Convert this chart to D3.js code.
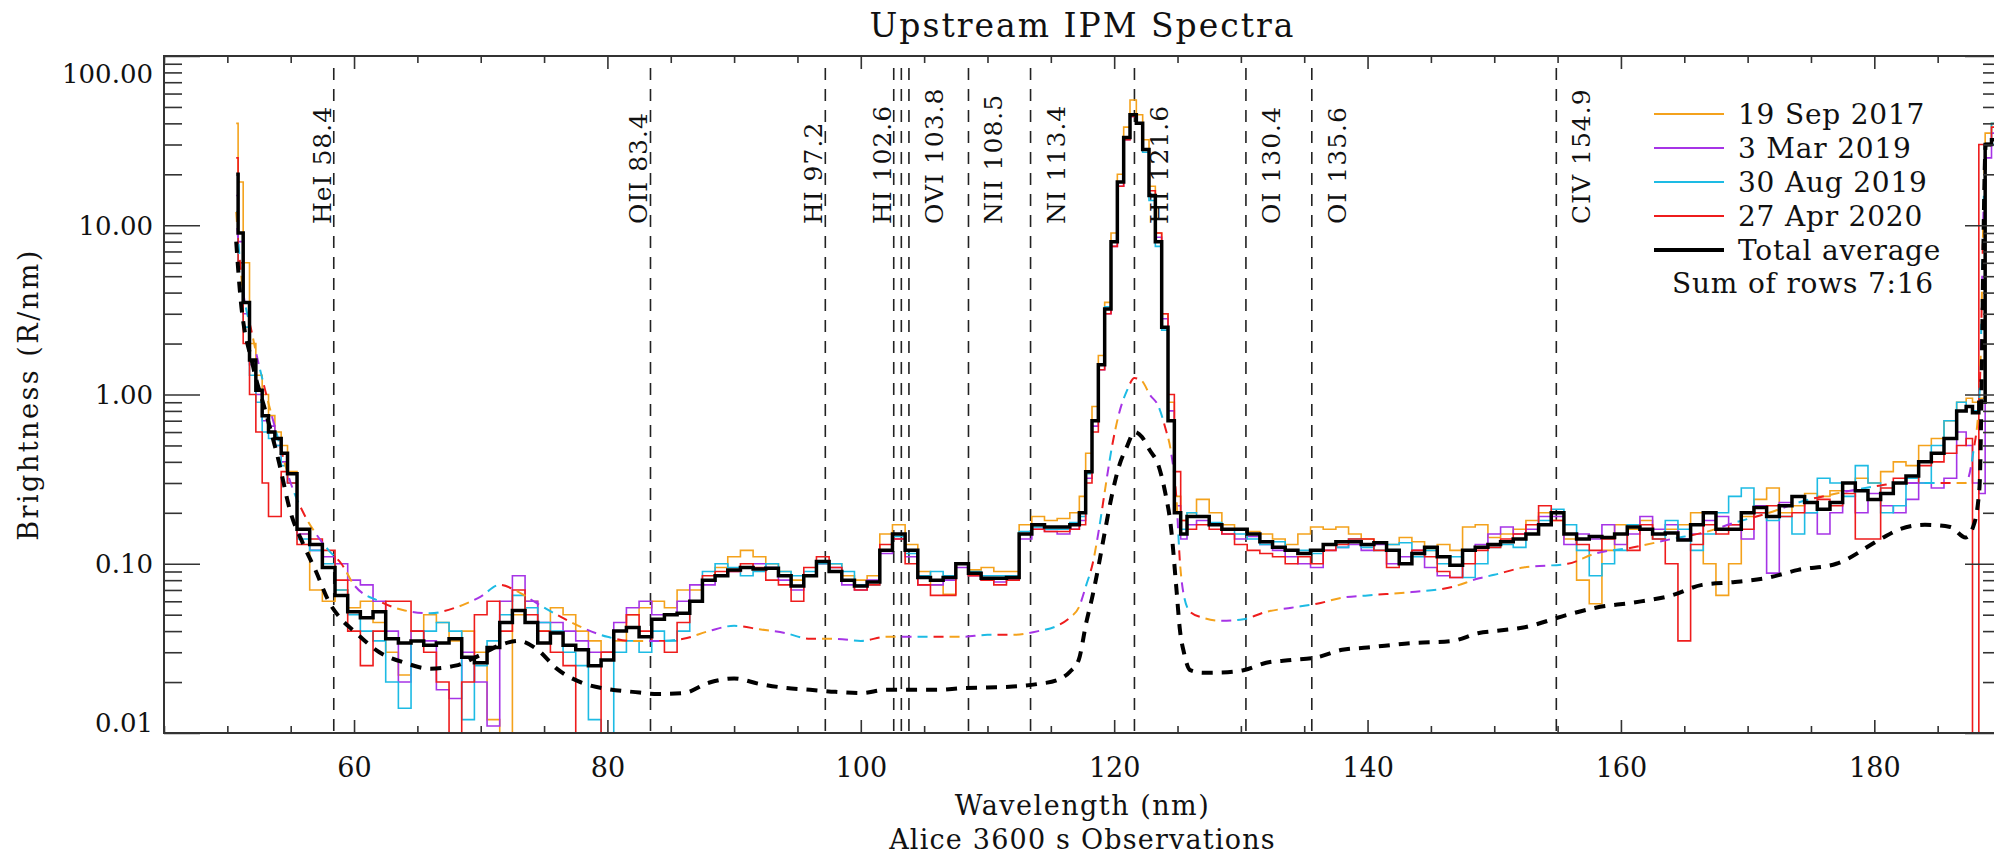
<!DOCTYPE html>
<html>
<head>
<meta charset="utf-8">
<script src="https://cdn.jsdelivr.net/npm/d3@7"></script>
<style>
  body { margin: 0; background: #ffffff; }
  text { font-family: 'DejaVu Serif', serif; fill: #111; }
</style>
</head>
<body>
<div id="chart"></div>
<script>
const wl = [
  50.7, 51, 51.5, 52, 52.5, 53, 53.5, 54, 54.5, 55,
  56, 57, 58, 59, 60, 61, 62, 63, 64, 65,
  66, 67, 68, 69, 70, 71, 72, 73, 74, 75,
  76, 77, 78, 79, 80, 81, 82, 83, 84, 85,
  86, 87, 88, 89, 90, 91, 92, 93, 94, 95,
  96, 97, 98, 99, 100, 101, 102, 103, 104, 105,
  106, 107, 108, 109, 110, 111, 112, 113, 114, 115,
  116, 117, 117.5, 118, 118.5, 119, 119.5, 120, 120.5, 121,
  121.5, 122, 122.5, 123, 123.5, 124, 124.5, 125, 125.5, 126,
  127, 128, 129, 130, 131, 132, 133, 134, 135, 136,
  137, 138, 139, 140, 141, 142, 143, 144, 145, 146,
  147, 148, 149, 150, 151, 152, 153, 154, 155, 156,
  157, 158, 159, 160, 161, 162, 163, 164, 165, 166,
  167, 168, 169, 170, 171, 172, 173, 174, 175, 176,
  177, 178, 179, 180, 181, 182, 183, 184, 185, 186,
  187, 187.5, 188, 188.5, 189, 189.5, 190
];

const sep2017 = [
  40, 18, 6, 2, 1.3, 1.0, 0.75, 0.6, 0.5, 0.35,
  0.15, 0.07, 0.06, 0.07, 0.055, 0.06, 0.045, 0.03, 0.022, 0.04,
  0.05, 0.045, 0.035, 0.04, 0.03, 0.012, 0.009, 0.05, 0.06, 0.04,
  0.055, 0.05, 0.04, 0.035, 0.03, 0.035, 0.05, 0.055, 0.06, 0.055,
  0.07, 0.07, 0.08, 0.095, 0.11, 0.12, 0.11, 0.1, 0.09, 0.08,
  0.085, 0.1, 0.1, 0.085, 0.08, 0.085, 0.15, 0.17, 0.13, 0.09,
  0.075, 0.066, 0.1, 0.092, 0.095, 0.09, 0.09, 0.17, 0.19, 0.18,
  0.185, 0.2, 0.25, 0.45, 0.85, 1.7, 3.5, 9, 20, 38,
  55, 45, 32, 17, 9, 3, 0.9, 0.25, 0.18, 0.2,
  0.24, 0.2, 0.17, 0.16, 0.155, 0.15, 0.14, 0.13, 0.15, 0.165,
  0.16, 0.165, 0.15, 0.14, 0.133, 0.13, 0.143, 0.135, 0.12, 0.13,
  0.12, 0.165, 0.17, 0.143, 0.15, 0.16, 0.18, 0.2, 0.18, 0.14,
  0.08, 0.058, 0.12, 0.17, 0.16, 0.18, 0.14, 0.16, 0.17, 0.2,
  0.1, 0.065, 0.1, 0.19, 0.24, 0.28, 0.2, 0.22, 0.26, 0.25,
  0.27, 0.3, 0.32, 0.3, 0.35, 0.4, 0.38, 0.5, 0.55, 0.7,
  0.9, 0.95, 0.9, 0.95, 35, 40, 40
];

const mar2019 = [
  15, 8, 3, 1.5, 1.0, 0.7, 0.65, 0.5, 0.4, 0.3,
  0.15, 0.12, 0.11, 0.1, 0.08, 0.075, 0.06, 0.04, 0.02, 0.04,
  0.035, 0.018, 0.016, 0.03, 0.02, 0.011, 0.06, 0.085, 0.06, 0.045,
  0.045, 0.04, 0.035, 0.03, 0.03, 0.045, 0.055, 0.06, 0.05, 0.05,
  0.06, 0.075, 0.075, 0.085, 0.09, 0.095, 0.1, 0.095, 0.08, 0.07,
  0.085, 0.1, 0.095, 0.075, 0.07, 0.08, 0.115, 0.14, 0.11, 0.075,
  0.075, 0.08, 0.095, 0.085, 0.08, 0.078, 0.08, 0.14, 0.16, 0.155,
  0.15, 0.16, 0.18, 0.32, 0.65, 1.4, 3, 7.5, 17, 32,
  44, 40, 28, 15, 8.5, 2.8, 0.8, 0.22, 0.14, 0.17,
  0.18, 0.17, 0.15, 0.14, 0.145, 0.13, 0.12, 0.11, 0.1, 0.095,
  0.12, 0.125, 0.13, 0.12, 0.13, 0.1, 0.11, 0.12, 0.095, 0.085,
  0.083, 0.12, 0.13, 0.15, 0.165, 0.15, 0.16, 0.19, 0.19, 0.13,
  0.15, 0.14, 0.17, 0.13, 0.15, 0.19, 0.16, 0.17, 0.14, 0.15,
  0.18, 0.19, 0.17, 0.14, 0.22, 0.088, 0.23, 0.25, 0.2, 0.15,
  0.2, 0.27, 0.2, 0.26, 0.22, 0.2, 0.24, 0.3, 0.28, 0.32,
  0.6, 0.5, 0.3, 0.26, 25, 35, 35
];

const aug2019 = [
  12, 6, 2.5, 1.3, 0.9, 0.6, 0.55, 0.5, 0.38, 0.3,
  0.14, 0.12, 0.1, 0.07, 0.05, 0.04, 0.035, 0.02, 0.014, 0.035,
  0.04, 0.045, 0.04, 0.012, 0.025, 0.035, 0.05, 0.065, 0.055, 0.045,
  0.04, 0.03, 0.025, 0.012, 0.008, 0.03, 0.035, 0.03, 0.04, 0.035,
  0.04, 0.06, 0.09, 0.1, 0.095, 0.085, 0.09, 0.1, 0.09, 0.085,
  0.09, 0.1, 0.1, 0.09, 0.075, 0.075, 0.12, 0.145, 0.115, 0.085,
  0.09, 0.085, 0.1, 0.09, 0.085, 0.085, 0.085, 0.155, 0.165, 0.16,
  0.16, 0.175, 0.19, 0.34, 0.7, 1.5, 3.3, 8, 18, 33,
  45, 40, 27, 14, 7.5, 2.4, 0.7, 0.2, 0.16, 0.2,
  0.19, 0.175, 0.16, 0.15, 0.14, 0.13, 0.135, 0.12, 0.12, 0.115,
  0.13, 0.125, 0.14, 0.125, 0.12, 0.13, 0.133, 0.11, 0.12, 0.1,
  0.11, 0.083, 0.1, 0.125, 0.13, 0.125, 0.15, 0.18, 0.21, 0.17,
  0.12, 0.085, 0.1, 0.12, 0.17, 0.16, 0.14, 0.18, 0.16, 0.12,
  0.15, 0.2, 0.25, 0.28, 0.2, 0.18, 0.19, 0.15, 0.2, 0.32,
  0.3, 0.25, 0.38, 0.3, 0.2, 0.22, 0.32, 0.3, 0.5, 0.7,
  0.9, 0.85, 0.8, 0.9, 30, 40, 40
];

const apr2020 = [
  25, 6, 2, 1.0, 0.6, 0.3, 0.19, 0.19, 0.35, 0.3,
  0.13, 0.14, 0.12, 0.08, 0.04, 0.025, 0.04, 0.06, 0.06, 0.04,
  0.03, 0.02, 0.008, 0.02, 0.05, 0.06, 0.04, 0.07, 0.05, 0.04,
  0.03, 0.025, 0.008, 0.008, 0.03, 0.04, 0.05, 0.04, 0.035, 0.03,
  0.045, 0.06, 0.085, 0.09, 0.09, 0.1, 0.095, 0.08, 0.075, 0.06,
  0.095, 0.11, 0.095, 0.08, 0.07, 0.075, 0.13, 0.14, 0.1, 0.075,
  0.065, 0.065, 0.1, 0.085, 0.08, 0.075, 0.08, 0.15, 0.16, 0.155,
  0.155, 0.16, 0.17, 0.3, 0.6, 1.4, 3, 7.5, 17, 32,
  44, 40, 28, 16, 9, 3, 1.0, 0.35, 0.18, 0.16,
  0.17, 0.16, 0.15, 0.13, 0.12, 0.115, 0.11, 0.1, 0.11, 0.1,
  0.12, 0.13, 0.14, 0.14, 0.12, 0.095, 0.1, 0.12, 0.11, 0.09,
  0.083, 0.1, 0.12, 0.125, 0.14, 0.15, 0.17, 0.22, 0.18, 0.15,
  0.13, 0.12, 0.14, 0.15, 0.12, 0.17, 0.14, 0.1, 0.035, 0.13,
  0.17, 0.15, 0.17, 0.16, 0.2, 0.22, 0.19, 0.2, 0.23, 0.24,
  0.22, 0.26, 0.14, 0.14, 0.28, 0.32, 0.3, 0.38, 0.4, 0.45,
  0.5, 0.55, 0.001, 30, 30, 38, 38
];

const totalAverage = [
  20, 9, 3.5, 1.6, 1.06, 0.75, 0.6, 0.55, 0.45, 0.34,
  0.16, 0.13, 0.095, 0.065, 0.052, 0.048, 0.052, 0.036, 0.034, 0.035,
  0.033, 0.034, 0.036, 0.028, 0.026, 0.032, 0.045, 0.053, 0.045, 0.034,
  0.039, 0.033, 0.031, 0.025, 0.027, 0.04, 0.042, 0.037, 0.047, 0.05,
  0.051, 0.06, 0.08, 0.085, 0.092, 0.095, 0.093, 0.094, 0.085, 0.074,
  0.085, 0.103, 0.09, 0.08, 0.074, 0.078, 0.12, 0.15, 0.12, 0.083,
  0.08, 0.083, 0.1, 0.088, 0.082, 0.082, 0.083, 0.15, 0.17, 0.165,
  0.165, 0.17, 0.2, 0.35, 0.7, 1.5, 3.2, 8, 18, 33,
  45, 40, 28, 15, 8, 2.5, 0.7, 0.2, 0.15, 0.19,
  0.19, 0.17, 0.16, 0.16, 0.15, 0.135, 0.125, 0.12, 0.115, 0.12,
  0.13, 0.135, 0.135, 0.13, 0.133, 0.12, 0.1, 0.115, 0.125, 0.11,
  0.098, 0.12, 0.125, 0.13, 0.135, 0.14, 0.15, 0.17, 0.2, 0.15,
  0.14, 0.145, 0.143, 0.15, 0.165, 0.16, 0.15, 0.152, 0.138, 0.17,
  0.2, 0.16, 0.16, 0.2, 0.215, 0.19, 0.22, 0.25, 0.23, 0.21,
  0.23, 0.3, 0.27, 0.24, 0.26, 0.3, 0.33, 0.4, 0.45, 0.55,
  0.8, 0.85, 0.78, 0.9, 30, 32, 32
];

const modelWl = [
  50.7, 51, 52, 53, 54, 55, 56, 57, 58, 59,
  60, 62, 64, 66, 68, 70, 71.5, 73, 74.5, 76,
  78, 80, 82, 84, 86, 88, 90, 92, 94, 96,
  98, 100, 102, 104, 106, 108, 110, 112, 114, 115.5,
  116.5, 117.2, 117.8, 118.3, 118.8, 119.3, 119.8, 120.4, 121, 121.6,
  122.2, 122.8, 123.5, 124, 124.5, 124.9, 125.2, 125.5, 126, 127,
  128.5, 130.2, 132, 134, 136, 138, 140, 143.5, 146.7, 148.8,
  150, 152.3, 155.8, 158, 161, 164, 166.4, 169, 171.7, 174,
  177, 180.5, 182, 184, 186, 187.2, 187.8, 188.3, 188.8, 190
];

const dateModel = [
  12, 6, 2.2, 1.05, 0.55, 0.3, 0.2, 0.15, 0.12, 0.1,
  0.075, 0.06, 0.053, 0.051, 0.055, 0.064, 0.075, 0.068, 0.058, 0.05,
  0.042, 0.037, 0.035, 0.035, 0.036, 0.04, 0.043, 0.041, 0.039, 0.036,
  0.036, 0.035, 0.037, 0.037, 0.037, 0.037, 0.038, 0.038, 0.04, 0.043,
  0.048, 0.055, 0.075, 0.1, 0.16, 0.28, 0.48, 0.78, 1.05, 1.25,
  1.2, 1.0, 0.85, 0.65, 0.45, 0.25, 0.1, 0.065, 0.052, 0.048,
  0.046, 0.047, 0.052, 0.055, 0.058, 0.063, 0.065, 0.068, 0.073, 0.082,
  0.086, 0.095, 0.1, 0.115, 0.125, 0.14, 0.152, 0.175, 0.2, 0.23,
  0.26, 0.29, 0.3, 0.3, 0.3, 0.3, 0.45, 1.0, 30, 30
];

const averageModel = [
  8, 4, 1.5, 0.8, 0.42, 0.2, 0.13, 0.09, 0.06, 0.047,
  0.04, 0.03, 0.026, 0.024, 0.025, 0.029, 0.033, 0.035, 0.031, 0.024,
  0.0198, 0.0182, 0.0175, 0.017, 0.0172, 0.0198, 0.021, 0.0195, 0.0185, 0.018,
  0.0175, 0.0172, 0.018, 0.018, 0.018, 0.0184, 0.0186, 0.0188, 0.0195, 0.0205,
  0.023, 0.027, 0.045, 0.065, 0.1, 0.16, 0.25, 0.38, 0.49, 0.6,
  0.56, 0.47, 0.38, 0.27, 0.16, 0.073, 0.04, 0.03, 0.0235, 0.0227,
  0.0228, 0.0235, 0.026, 0.027, 0.028, 0.031, 0.032, 0.034, 0.035, 0.039,
  0.04, 0.042, 0.05, 0.055, 0.059, 0.065, 0.075, 0.078, 0.083, 0.092,
  0.1, 0.14, 0.16, 0.17, 0.165, 0.143, 0.165, 0.28, 30, 30
];

const lineWl = [58.4, 83.4, 97.2, 102.6, 103.2, 103.8, 108.5, 113.4, 121.6, 130.4, 135.6, 154.9];
const lineNames = ['HeI 58.4', 'OII 83.4', 'HI 97.2', 'HI 102.6', '', 'OVI 103.8', 'NII 108.5', 'NI 113.4', 'HI 121.6', 'OI 130.4', 'OI 135.6', 'CIV 154.9'];

const xTicks = [60, 80, 100, 120, 140, 160, 180];
const yTicks = [0.01, 0.1, 1, 10, 100];

const seriesNames = ['19 Sep 2017', '3 Mar 2019', '30 Aug 2019', '27 Apr 2020'];
const seriesValues = [sep2017, mar2019, aug2019, apr2020];
const seriesColors = ['#f4a21c', '#a634e6', '#1dbbe4', '#ee1c1c'];

const width = 1994;
const height = 854;
const plotLeft = 164, plotRight = 2001, plotTop = 56, plotBottom = 733;

const svg = d3
  .select('#chart')
  .append('svg')
  .attr('width', width)
  .attr('height', height)
  .style('background-color', '#ffffff');

const x = d3.scaleLinear().domain([45, 190]).range([plotLeft, plotRight]);
const y = d3.scaleLog().domain([0.01, 100]).range([plotBottom, plotTop]);

svg.append('clipPath').attr('id', 'plot-clip')
  .append('rect')
  .attr('x', plotLeft).attr('y', plotTop)
  .attr('width', plotRight - plotLeft).attr('height', plotBottom - plotTop);

// reference wavelengths
const refLines = svg.append('g');
lineWl.forEach((w, i) => {
  refLines.append('line')
    .attr('x1', x(w)).attr('x2', x(w))
    .attr('y1', 68).attr('y2', plotBottom)
    .attr('stroke', '#222')
    .attr('stroke-width', 1.6)
    .attr('stroke-dasharray', '12,9');
  if (!lineNames[i]) return;
  const bx = w < 103 ? x(w) - 3 : x(w) + 34;
  refLines.append('text')
    .attr('transform', `translate(${bx},224) rotate(-90)`)
    .attr('text-anchor', 'start')
    .style('font-size', '25px')
    .style('letter-spacing', '1px')
    .text(lineNames[i]);
});

const plot = svg.append('g').attr('clip-path', 'url(#plot-clip)');

const stepLine = d3.line()
  .x((d, i) => x(wl[i]))
  .y(d => y(Math.max(d, 1e-4)))
  .curve(d3.curveStep);

const modelLine = d3.line()
  .x((d, i) => x(modelWl[i]))
  .y(d => y(d))
  .curve(d3.curveMonotoneX);

seriesValues.forEach((vals, i) => {
  plot.append('path')
    .datum(vals)
    .attr('fill', 'none')
    .attr('stroke', seriesColors[i])
    .attr('stroke-width', 1.6)
    .attr('d', stepLine);
});

seriesColors.forEach((c, i) => {
  plot.append('path')
    .datum(dateModel)
    .attr('fill', 'none')
    .attr('stroke', c)
    .attr('stroke-width', 2)
    .attr('stroke-dasharray', '10,54')
    .attr('stroke-dashoffset', -16 * i)
    .attr('d', modelLine);
});

plot.append('path')
  .datum(averageModel)
  .attr('fill', 'none')
  .attr('stroke', '#000')
  .attr('stroke-width', 4)
  .attr('stroke-dasharray', '11,9')
  .attr('d', modelLine);

plot.append('path')
  .datum(totalAverage)
  .attr('fill', 'none')
  .attr('stroke', '#000')
  .attr('stroke-width', 3.5)
  .attr('d', stepLine);

// axes, IDL style with inward ticks
const xMinor = d3.range(45, 191, 5).filter(v => !xTicks.includes(v));
const yMinor = y.ticks().filter(v => !yTicks.some(t => Math.abs(t - v) < 1e-9));

function styleAxis(g) {
  g.select('.domain').remove();
  g.selectAll('.tick line').attr('stroke', '#333').attr('stroke-width', 1.6);
}

svg.append('g')
  .attr('transform', `translate(0,${plotBottom})`)
  .call(d3.axisBottom(x).tickValues(xTicks).tickSize(-13).tickSizeOuter(0).tickPadding(25).tickFormat(d3.format('d')))
  .call(styleAxis)
  .call(g => g.selectAll('text').style('font-size', '27px').style('font-family', 'DejaVu Serif').attr('fill', '#111'));
svg.append('g')
  .attr('transform', `translate(0,${plotBottom})`)
  .call(d3.axisBottom(x).tickValues(xMinor).tickSize(-7).tickSizeOuter(0).tickFormat(''))
  .call(styleAxis);
svg.append('g')
  .attr('transform', `translate(0,${plotTop})`)
  .call(d3.axisTop(x).tickValues(xTicks).tickSize(-13).tickSizeOuter(0).tickFormat(''))
  .call(styleAxis);
svg.append('g')
  .attr('transform', `translate(0,${plotTop})`)
  .call(d3.axisTop(x).tickValues(xMinor).tickSize(-7).tickSizeOuter(0).tickFormat(''))
  .call(styleAxis);

svg.append('g')
  .attr('transform', `translate(${plotLeft},0)`)
  .call(d3.axisLeft(y).tickValues(yTicks).tickSize(-36).tickSizeOuter(0).tickPadding(11).tickFormat(d3.format('.2f')))
  .call(styleAxis)
  .call(g => g.selectAll('text')
    .style('font-size', '26px')
    .style('font-family', 'DejaVu Serif')
    .attr('fill', '#111')
    .attr('dy', d => d === 100 ? '1.0em' : d === 0.01 ? '-0.05em' : '0.35em'));
svg.append('g')
  .attr('transform', `translate(${plotLeft},0)`)
  .call(d3.axisLeft(y).tickValues(yMinor).tickSize(-18).tickSizeOuter(0).tickFormat(''))
  .call(styleAxis);
svg.append('g')
  .attr('transform', `translate(${plotRight},0)`)
  .call(d3.axisRight(y).tickValues(yTicks).tickSize(-36).tickSizeOuter(0).tickFormat(''))
  .call(styleAxis);
svg.append('g')
  .attr('transform', `translate(${plotRight},0)`)
  .call(d3.axisRight(y).tickValues(yMinor).tickSize(-18).tickSizeOuter(0).tickFormat(''))
  .call(styleAxis);

svg.append('rect')
  .attr('x', plotLeft).attr('y', plotTop)
  .attr('width', plotRight - plotLeft).attr('height', plotBottom - plotTop)
  .attr('fill', 'none')
  .attr('stroke', '#333')
  .attr('stroke-width', 2);

// titles
svg.append('text')
  .attr('x', (plotLeft + plotRight) / 2).attr('y', 37)
  .attr('text-anchor', 'middle')
  .style('font-size', '33px')
  .style('letter-spacing', '2px')
  .text('Upstream IPM Spectra');

svg.append('text')
  .attr('x', (plotLeft + plotRight) / 2).attr('y', 815)
  .attr('text-anchor', 'middle')
  .style('font-size', '27px')
  .style('letter-spacing', '1.5px')
  .text('Wavelength (nm)');

svg.append('text')
  .attr('x', (plotLeft + plotRight) / 2).attr('y', 849)
  .attr('text-anchor', 'middle')
  .style('font-size', '27px')
  .style('letter-spacing', '1.2px')
  .text('Alice 3600 s Observations');

svg.append('text')
  .attr('transform', `translate(38,${(plotTop + plotBottom) / 2}) rotate(-90)`)
  .attr('text-anchor', 'middle')
  .style('font-size', '27px')
  .style('letter-spacing', '2.5px')
  .text('Brightness (R/nm)');

// legend
const legendRows = seriesNames.map((n, i) => ({ name: n, color: seriesColors[i], width: 2 }))
  .concat([{ name: 'Total average', color: '#000', width: 4 }]);
const legend = svg.append('g');
legendRows.forEach((r, i) => {
  const cy = 114 + i * 34;
  legend.append('line')
    .attr('x1', 1654).attr('x2', 1724)
    .attr('y1', cy).attr('y2', cy)
    .attr('stroke', r.color)
    .attr('stroke-width', r.width);
  legend.append('text')
    .attr('x', 1738).attr('y', cy + 10)
    .style('font-size', '28px')
    .style('letter-spacing', '0.8px')
    .text(r.name);
});
legend.append('text')
  .attr('x', 1803).attr('y', 283 + 10)
  .attr('text-anchor', 'middle')
  .style('font-size', '28px')
  .style('letter-spacing', '0.8px')
  .text('Sum of rows 7:16');
</script>
</body>
</html>
